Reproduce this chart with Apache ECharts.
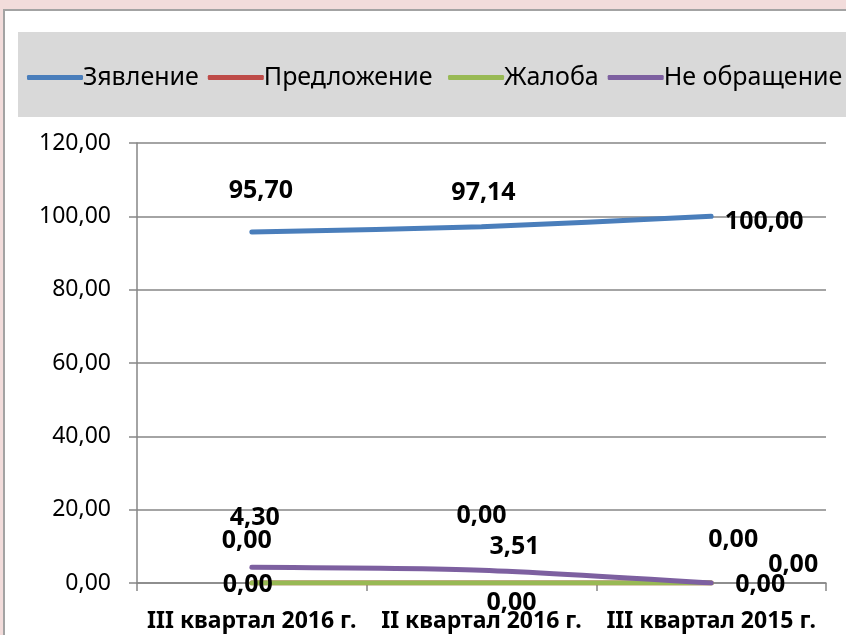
<!DOCTYPE html>
<html>
<head>
<meta charset="utf-8">
<script src="https://cdn.jsdelivr.net/npm/echarts@6/dist/echarts.min.js"></script>
<style>
  html, body { margin: 0; padding: 0; background: #f2dcdb; }
  .panel {
    position: absolute; left: 3px; top: 9px; right: 0; bottom: 0;
    background: #fff;
    border-top: 2px solid #a3a3a3;
    border-left: 2px solid #a3a3a3;
  }
  .legend-band {
    position: absolute; left: 18px; top: 32px; width: 828px; height: 85px;
    background: #d9d9d9;
  }
  #chart { position: absolute; left: 0; top: 0; width: 846px; height: 635px; }
</style>
</head>
<body>
<div class="panel"></div>
<div class="legend-band"></div>
<div id="chart"></div>
<script>
const categories = ['III квартал 2016 г.', 'II квартал 2016 г.', 'III квартал 2015 г.']
const seriesNames = ['Зявление', 'Предложение', 'Жалоба', 'Не обращение']
const zayavlenie = [95.70, 97.14, 100.00]
const predlozhenie = [0.00, 0.00, 0.00]
const zhaloba = [0.00, 0.00, 0.00]
const neObrashchenie = [4.30, 3.51, 0.00]
const yTicks = [0, 20, 40, 60, 80, 100, 120]

const colors = ['#4a7ebb', '#be4b48', '#98b954', '#7d60a0']

// label offsets (hand placed in the original)
const labelOffsets = [
  [[9, -41], [2, -34], [53, 6]],
  [[-5, -42], [0, -67], [22, -43]],
  [[-4, 2], [30, 20], [49, 2]],
  [[3, -49], [33, -23], [82, -18]]
]

const fmt = v => v.toFixed(2).replace('.', ',')

const allValues = [zayavlenie, predlozhenie, zhaloba, neObrashchenie]

const chart = echarts.init(document.getElementById('chart'))

const option = {
  backgroundColor: 'transparent',
  animation: false,
  legend: {
    data: seriesNames.map((n, i) => ({
      name: n,
      itemStyle: { color: colors[i], opacity: 1 }
    })),
    formatter: name => (name === 'Предложение' ? name + ' ' : name),
    left: 22,
    top: 60,
    width: 840,
    icon: 'roundRect',
    itemWidth: 56,
    itemHeight: 5,
    itemGap: 9,
    textStyle: {
      fontFamily: 'Noto Sans',
      fontSize: 25,
      color: '#000',
      padding: [0, 0, 0, -5]
    }
  },
  grid: {
    left: 137,
    right: 20,
    top: 143,
    bottom: 52,
    containLabel: false
  },
  xAxis: {
    type: 'category',
    data: categories,
    boundaryGap: true,
    axisLine: { lineStyle: { color: '#868686', width: 1.5 } },
    axisTick: { show: true, length: 8, alignWithLabel: false, lineStyle: { color: '#868686', width: 1.5 } },
    axisLabel: {
      interval: 0,
      fontFamily: 'Noto Sans',
      fontWeight: 'bold',
      fontSize: 23,
      color: '#000',
      margin: 27
    }
  },
  yAxis: {
    type: 'value',
    min: yTicks[0],
    max: yTicks[yTicks.length - 1],
    interval: 20,
    axisLine: { show: true, lineStyle: { color: '#868686', width: 1.5 } },
    axisTick: { show: true, length: 8, lineStyle: { color: '#868686', width: 1.5 } },
    splitLine: { lineStyle: { color: '#868686', width: 1.5 } },
    axisLabel: {
      fontFamily: 'Noto Sans',
      fontSize: 23,
      color: '#000',
      margin: 26,
      formatter: v => fmt(v)
    }
  },
  series: allValues.map((vals, si) => ({
    name: seriesNames[si],
    type: 'line',
    smooth: 0.25,
    symbol: 'circle',
    symbolSize: 1,
    showSymbol: true,
    itemStyle: { color: colors[si] },
    lineStyle: { color: colors[si], width: 5, cap: 'round' },
    data: vals.map((v, i) => ({
      value: v,
      label: { offset: labelOffsets[si][i] }
    })),
    label: {
      show: true,
      position: 'inside',
      formatter: p => fmt(p.value),
      fontFamily: 'Noto Sans',
      fontWeight: 'bold',
      fontSize: 25,
      color: '#000'
    },
    z: 2 + si
  }))
}

chart.setOption(option)
</script>
</body>
</html>
